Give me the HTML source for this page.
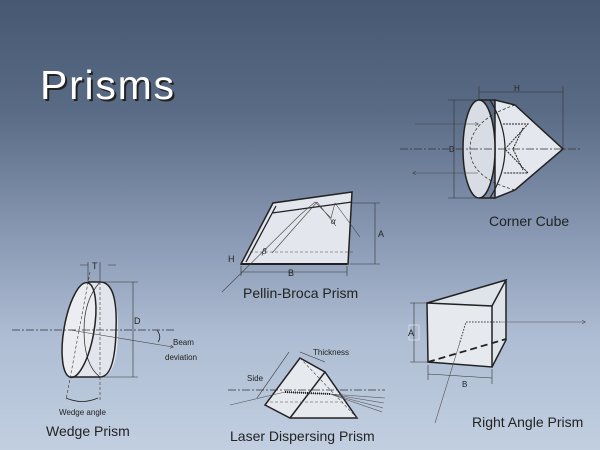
<!DOCTYPE html>
<html><head><style>
html,body{margin:0;padding:0;width:600px;height:450px;overflow:hidden}
body{background:linear-gradient(#465872 0%,#5a6b86 25%,#8595b0 50%,#aebdd3 75%,#c2cfe1 100%)}
svg{position:absolute;left:0;top:0}
text{font-family:"Liberation Sans",sans-serif;fill:#222}
</style></head><body>
<svg width="600" height="450" viewBox="0 0 600 450" xmlns="http://www.w3.org/2000/svg">
<defs><marker id="a" markerWidth="6" markerHeight="6" refX="5" refY="3" orient="auto"><path d="M0,0 L6,3 L0,6" fill="none" stroke="#333" stroke-width="0.8"/></marker></defs>
<text x="42" y="101" font-size="41" textLength="134" style="fill:#222">Prisms</text>
<text x="40" y="99" font-size="41" textLength="134" style="fill:#fff">Prisms</text>

<!-- Corner cube -->
<g stroke="#222" fill="none">
<path d="M495,100 L515,105 L563,149 L515,190 L495,198 Z" fill="#e4e7ed" stroke-width="1.5"/>
<ellipse cx="479" cy="149" rx="16" ry="49" fill="#d8dce4" stroke-width="1.5"/>
<path d="M479,100 L495,100 M479,198 L495,198" stroke-width="1.5"/>
<path d="M490,100 Q520,149 490,198" stroke-width="1.2"/>
<path d="M503,124 L528,124 L505,149 L528,173 L503,173 M523,128 L513,149 L523,170" stroke-dasharray="2,1" stroke-width="1"/>
<path d="M515,105 Q470,120 470,149 Q470,178 515,190" stroke-dasharray="3,2" stroke-width="0.7"/>
<path d="M400,149 L582,149" stroke="#333" stroke-dasharray="8,2,2,2" stroke-width="0.8"/>
<path d="M415,124 L478,124" stroke="#444" stroke-width="0.6" marker-end="url(#a)"/>
<path d="M478,173 L413,173" stroke="#444" stroke-width="0.6" marker-end="url(#a)"/>
<path d="M479,92 L563,92 M479,86 L479,100 M563,86 L563,149" stroke="#333" stroke-width="0.6"/>
<path d="M454,100 L454,198 M448,100 L479,100 M448,198 L479,198" stroke="#333" stroke-width="0.6"/>
</g>
<text x="514" y="91" font-size="8">H</text>
<text x="449" y="152" font-size="8">D</text>
<text x="489" y="226" font-size="14">Corner Cube</text>

<!-- Pellin-Broca -->
<g stroke="#222" fill="none">
<path d="M241,264 L273,203 L352,192 L348,264 Z" fill="#e3e6ec" stroke-width="1.5"/>
<path d="M246,262 L276,206 M272,213 L352,202" stroke-width="1.3"/>
<path d="M241,264 L347,264" stroke-width="2"/>
<path d="M222,292 L300,215 L315,202 L331,218 L335,203 L360,237 M272,253 L317,202 L336,226" stroke="#444" stroke-width="0.6"/>
<path d="M250,252 L355,252" stroke="#444" stroke-dasharray="3,2" stroke-width="0.6"/>
<path d="M375,203 L375,264 M352,203 L380,203 M350,264 L380,264 M241,272 L347,272 M241,266 L241,276 M347,266 L347,276" stroke="#333" stroke-width="0.6"/>
</g>
<text x="378" y="237" font-size="9">A</text>
<text x="288" y="276" font-size="9">B</text>
<text x="228" y="262" font-size="9">H</text>
<text x="262" y="254" font-size="8" font-style="italic">β</text>
<text x="331" y="224" font-size="8" font-style="italic">α</text>
<text x="243" y="298" font-size="14">Pellin-Broca Prism</text>

<!-- Wedge -->
<g stroke="#222" fill="none">
<path d="M100,282 Q118,282 118,330 Q118,377 100,377 L70,377 L88,282 Z" fill="#e2e5eb" stroke="none"/>
<ellipse cx="79" cy="330" rx="15" ry="48" transform="rotate(10 79 330)" fill="#ebedf1" stroke-width="1.5"/>
<path d="M88,282 L100,282 Q118,282 116,330 Q115,377 100,377 L71,377" stroke-width="1.5"/>
<path d="M100,282 Q84,300 84,330 Q84,365 100,377" stroke-width="0.7"/>
<path d="M12,330 L175,330" stroke="#333" stroke-dasharray="8,2,2,2" stroke-width="0.8"/>
<path d="M70,330 L173,347" stroke="#444" stroke-width="0.6" marker-end="url(#a)"/>
<path d="M90,272 L66,400 M100,282 L100,402" stroke="#333" stroke-dasharray="3,2" stroke-width="0.6"/>
<path d="M66,398 Q82,405 98,398 M157,330 Q162,337 158,342" stroke="#222" stroke-width="0.8"/>
<path d="M133,282 L133,377 M100,282 L138,282 M100,377 L138,377 M80,265 L88,265 M108,265 L116,265 M88,262 L88,282 M100,262 L100,282" stroke="#333" stroke-width="0.6"/>
</g>
<text x="92" y="269" font-size="9">T</text>
<text x="134" y="324" font-size="9">D</text>
<text x="173" y="345" font-size="8">Beam</text>
<text x="165" y="360" font-size="8">deviation</text>
<text x="59" y="415" font-size="8">Wedge angle</text>
<text x="46" y="436" font-size="14">Wedge Prism</text>

<!-- Laser Dispersing -->
<g stroke="#222" fill="none">
<path d="M300,358 L325,372 L357,418 L290,418 L265,405 Z" fill="#e6e9ee" stroke="none"/>
<path d="M300,358 L325,372 L290,418 L265,405 Z M325,372 L357,418 L290,418" stroke-width="1.5"/>
<path d="M300,358 L357,418 M270,402 L345,402" stroke="#444" stroke-dasharray="3,2" stroke-width="0.6"/>
<path d="M228,390 L385,390" stroke="#333" stroke-dasharray="8,2,2,2" stroke-width="0.8"/>
<path d="M230,405 L285,392 L330,394 L385,398 M330,394 L384,403 M330,394 L383,408 M330,394 L382,412" stroke="#555" stroke-width="0.6"/>
<path d="M285,392 L330,394" stroke="#222" stroke-width="2" stroke-dasharray="1,1"/>
<path d="M257,398 L289,352 M300,352 L325,362" stroke="#333" stroke-width="0.6"/>
</g>
<text x="313" y="355" font-size="8">Thickness</text>
<text x="247" y="381" font-size="8">Side</text>
<text x="230" y="441" font-size="14">Laser Dispersing Prism</text>

<!-- Right angle -->
<g stroke="#222" fill="none">
<path d="M427,303 L506,280 L506,340 L492,367 L428,362 Z" fill="#dfe3ea" stroke="none"/>
<path d="M427,303 L492,306 L492,367 L428,362 Z" fill="#e6e9ee" stroke-width="1.5"/>
<path d="M427,303 L506,280 L492,306 M506,280 L506,340 L492,367" stroke-width="1.5"/>
<path d="M428,362 L506,339" stroke-dasharray="7,4" stroke-width="1.8"/>
<path d="M435,423 L460,342" stroke="#555" stroke-width="0.6"/>
<path d="M460,342 L466,322 L500,322" stroke="#333" stroke-dasharray="1.5,1.5" stroke-width="1"/>
<path d="M500,322 L585,322" stroke="#555" stroke-width="0.6" marker-end="url(#a)"/>
<path d="M414,303 L414,362 M410,303 L427,303 M410,362 L428,362 M428,374 L492,378 M428,365 L428,380 M492,369 L492,384" stroke="#333" stroke-width="0.6"/>
<rect x="409" y="325" width="10" height="15" stroke="#eee" stroke-width="0.6"/>
</g>
<text x="408" y="336" font-size="9">A</text>
<text x="462" y="387" font-size="8">B</text>
<text x="472" y="427" font-size="14">Right Angle Prism</text>
</svg>
</body></html>
